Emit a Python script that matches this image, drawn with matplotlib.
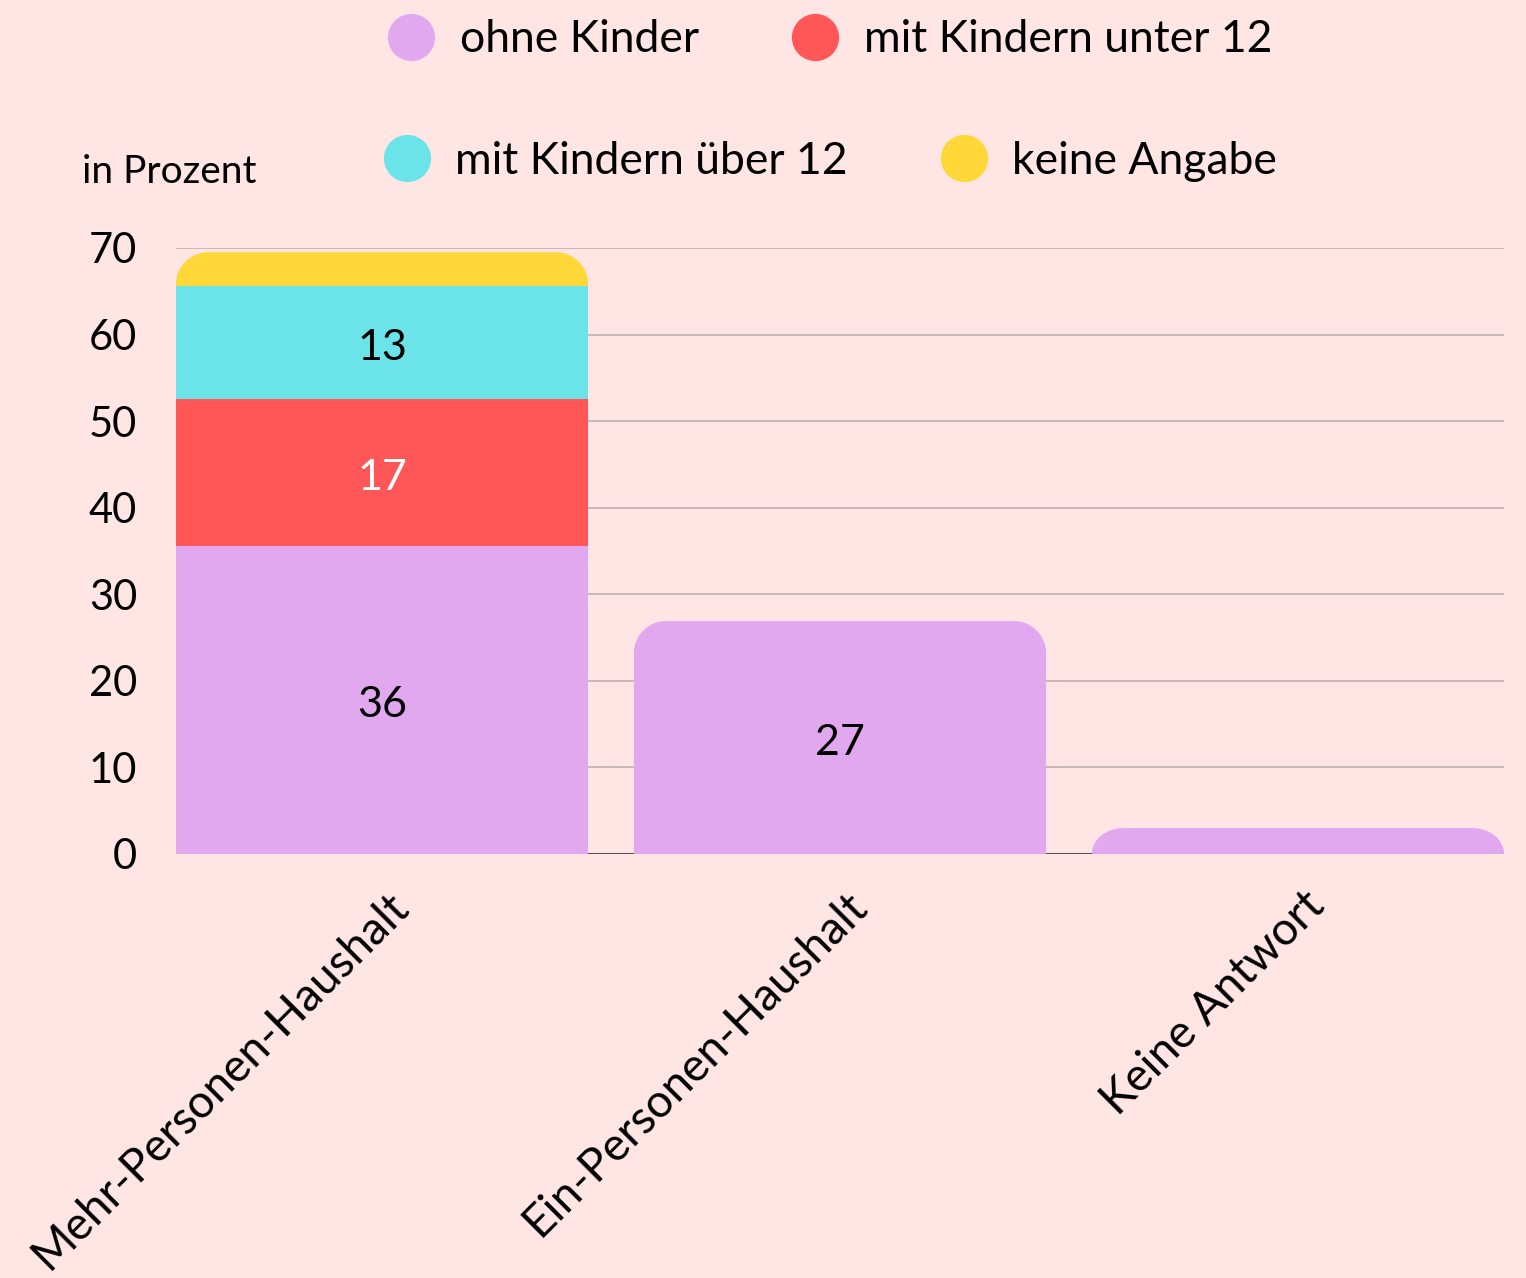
import matplotlib
matplotlib.use("Agg")
import matplotlib.pyplot as plt
import matplotlib.transforms as mtransforms
from matplotlib.path import Path
from matplotlib.patches import PathPatch
from matplotlib.lines import Line2D

plt.rcParams['font.family'] = ['Lato', 'DejaVu Sans']

categories = ["Mehr-Personen-Haushalt", "Ein-Personen-Haushalt", "Keine Antwort"]
series_names = ["ohne Kinder", "mit Kindern unter 12", "mit Kindern über 12", "keine Angabe"]
ohne_kinder = [35.6, 26.9, 3.0]
kinder_unter_12 = [17.0, 0, 0]
kinder_ueber_12 = [13.0, 0, 0]
keine_angabe = [3.9, 0, 0]
labels_ohne = ["36", "27", ""]
labels_unter = ["17", "", ""]
labels_ueber = ["13", "", ""]
yticks = [0, 10, 20, 30, 40, 50, 60, 70]

colors = ["#E1A8EF", "#FF5757", "#6AE4E8", "#FFD739"]
label_colors = ["black", "white", "black", None]
bg = "#FFE6E5"

fig = plt.figure(figsize=(15.26, 12.78), dpi=100, facecolor=bg)
ax = fig.add_axes([0.1153, 0.3318, 0.8703, 0.4742], facecolor=bg)
ax.set_xlim(-0.45, 2.45)
ax.set_ylim(0, 70)

width = 0.9
bbox = ax.get_window_extent()
rpx = 32
rx = rpx * 2.9 / bbox.width
ry_full = rpx * 70 / bbox.height
k = 0.5523


def rounded_top(x, bottom, height, color):
    # bar with rounded top corners, radius given in pixels
    x0, x1 = x - width / 2, x + width / 2
    top = bottom + height
    ry = min(ry_full, height)
    verts = [(x0, bottom), (x0, top - ry),
             (x0, top - ry + k * ry), (x0 + rx - k * rx, top), (x0 + rx, top),
             (x1 - rx, top),
             (x1 - rx + k * rx, top), (x1, top - ry + k * ry), (x1, top - ry),
             (x1, bottom), (x0, bottom)]
    codes = [Path.MOVETO, Path.LINETO,
             Path.CURVE4, Path.CURVE4, Path.CURVE4,
             Path.LINETO,
             Path.CURVE4, Path.CURVE4, Path.CURVE4,
             Path.LINETO, Path.CLOSEPOLY]
    ax.add_patch(PathPatch(Path(verts, codes), facecolor=color, edgecolor='none',
                           zorder=3, clip_on=False))


# grid
for t in yticks[1:]:
    ax.axhline(t, color="#BFAFAF", lw=1.2, zorder=1)
ax.axhline(0, color="#5A5050", lw=1.5, zorder=1)

stacks = [ohne_kinder, kinder_unter_12, kinder_ueber_12, keine_angabe]
texts = [labels_ohne, labels_unter, labels_ueber, None]
for i in range(len(categories)):
    # topmost nonzero segment gets the rounded corners
    top_idx = max(j for j, s in enumerate(stacks) if s[i] > 0)
    bottom = 0
    for j, s in enumerate(stacks):
        v = s[i]
        if v <= 0:
            continue
        if j == top_idx:
            rounded_top(i, bottom, v, colors[j])
        else:
            ax.bar(i, v, width=width, bottom=bottom, color=colors[j], zorder=3, linewidth=0)
        if texts[j] is not None and texts[j][i]:
            ax.annotate(texts[j][i], (i, bottom + v / 2), xytext=(0, -4),
                        textcoords='offset points', ha='center', va='center',
                        fontsize=31, color=label_colors[j], zorder=4)
        bottom += v

for s in ax.spines.values():
    s.set_visible(False)
ax.set_yticks(yticks)
ax.set_yticklabels([str(t) for t in yticks], fontsize=30)
ax.tick_params(axis='y', length=0, pad=28)
ax.set_xticks(range(len(categories)))
ax.set_xticklabels(categories, fontsize=33, rotation=45, ha='right',
                   rotation_mode='anchor')
ax.tick_params(axis='x', length=0, pad=22)
shift = mtransforms.ScaledTranslation(5 / 100, 0, fig.dpi_scale_trans)
for lab in ax.get_xticklabels():
    lab.set_transform(lab.get_transform() + shift)

fig.text(82 / 1526, 1 - 172 / 1278, "in Prozent", fontsize=28, ha='left', va='center')

handles = [Line2D([], [], marker='o', linestyle='none', markersize=34,
                  markerfacecolor=c, markeredgecolor='none') for c in colors]
leg_kw = dict(loc='center', ncol=2, frameon=False, fontsize=32,
              handletextpad=0.5, columnspacing=2.0, handlelength=1.2)
fig.legend(handles[:2], series_names[:2], bbox_to_anchor=(0.543, 1 - 40 / 1278), **leg_kw)
fig.legend(handles[2:], series_names[2:], bbox_to_anchor=(0.543, 1 - 161 / 1278), **leg_kw)

fig.savefig("out.png", dpi=100, facecolor=bg)
